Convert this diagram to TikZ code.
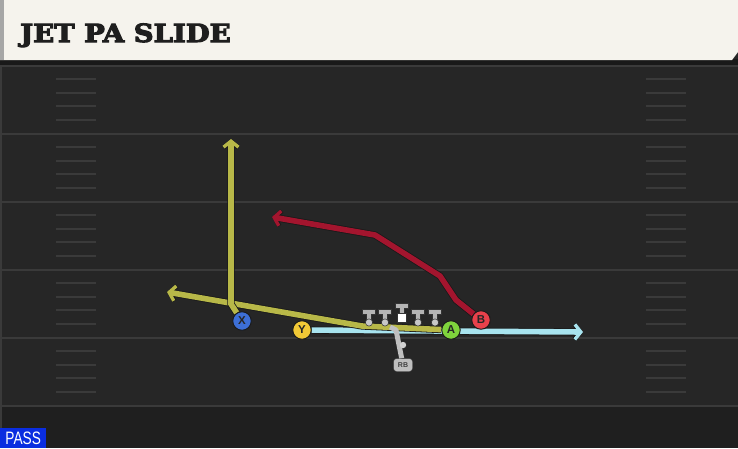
\documentclass[tikz,border=0pt]{standalone}
\usepackage{fontspec}
\newfontfamily\titlefont{DejaVu Serif}
\newfontfamily\labelfont{Liberation Sans}
\usetikzlibrary{arrows.meta}
\usetikzlibrary{positioning}

\definecolor{fieldbg}{HTML}{262626}
\definecolor{fieldlow}{HTML}{1F1F1F}
\definecolor{yardgray}{HTML}{3A3A3A}
\definecolor{titlebg}{HTML}{F5F3ED}
\definecolor{titleink}{HTML}{1E1E1E}
\definecolor{passblue}{HTML}{0A2DE0}
\definecolor{olivert}{HTML}{B8B848}
\definecolor{redrt}{HTML}{A3152E}
\definecolor{cyanrt}{HTML}{A8E4EF}
\definecolor{xblue}{HTML}{3D6FD6}
\definecolor{yyellow}{HTML}{F2C936}
\definecolor{agreen}{HTML}{7FD33C}
\definecolor{bred}{HTML}{E8414B}
\definecolor{olgray}{HTML}{B4B4B4}

\pgfdeclarelayer{field}
\pgfdeclarelayer{routes}
\pgfsetlayers{field,routes,main}

\begin{document}
\begin{tikzpicture}[x=1pt, y=-1pt, >={Straight Barb[length=6pt,width=15pt,line width=0pt 0.6]}]
	\tikzstyle{player} = [circle, draw=black!90, line width=0.9pt, minimum size=18.5pt, inner sep=0pt, font=\labelfont\bfseries\fontsize{11.5}{11.5}\selectfont, text=black!85];
	\tikzstyle{route} = [line width=5.6pt, preaction={draw=black!90, line width=7.2pt}];
	\tikzstyle{yardline} = [draw=yardgray, line width=1.6pt];
	\tikzstyle{hashmark} = [draw=yardgray, line width=1.4pt];
	\tikzstyle{lineman} = [fill=olgray, draw=black!80, line width=0.7pt];

	\useasboundingbox (0,0) rectangle (738,448);

	% field and title bar
	\begin{pgfonlayer}{field}
		\fill [fieldbg] (0,0) rectangle (738,448);
		\fill [fieldlow] (0,406) rectangle (738,448);
		\foreach \ly in {66,134,202,270,338,406}
			\draw [yardline] (0,\ly) -- (738,\ly);
		\foreach \ly in {66,134,202,270,338}
			\foreach \d in {13,27,40,54} {
				\draw [hashmark] (56,\ly+\d) -- (96,\ly+\d);
				\draw [hashmark] (646,\ly+\d) -- (686,\ly+\d);
			}
		\fill [yardgray] (0,65) rectangle (2,448);
		\fill [black!90] (0,59) rectangle (738,65);
		\fill [titlebg] (0,0) -- (738,0) -- (738,52) -- (732,60) -- (0,60) -- cycle;
		\fill [black!35] (0,0) rectangle (4,60);
	\end{pgfonlayer}

	\node [anchor=base west, inner sep=0pt, text=titleink, font=\titlefont\bfseries\fontsize{25}{25}\selectfont\addfontfeature{FakeBold=4}] (title) at (20,42) {\scalebox{1.1}[1]{JET PA SLIDE}};
	\node [fill=passblue, text=white, anchor=south west, minimum width=46pt, minimum height=20pt, inner sep=0pt, font=\labelfont\fontsize{18}{18}\selectfont] (mode) at (0,448) {\scalebox{0.76}[1]{PASS}};

	% players
	\node [player, fill=xblue]   (x) at (242,321) {X};
	\node [player, fill=yyellow] (y) at (302,330) {Y};
	\node [player, fill=agreen]  (a) at (451,330) {A};
	\node [player, fill=bred]    (b) at (481,320) {B};
	\node [fill=olgray!85, draw=black!80, rounded corners=3pt, inner sep=1.5pt, minimum width=19pt, minimum height=13pt, font=\labelfont\bfseries\fontsize{7}{7}\selectfont, text=black!75] (rb) at (403,365) {RB};

	% offensive line
	\foreach \lx in {369,385,418,435} {
		\filldraw [lineman] (\lx-6.5,309) -- (\lx+6.5,309) -- (\lx+6.5,314) -- (\lx+2.5,314) -- (\lx+2.5,321) -- (\lx-2.5,321) -- (\lx-2.5,314) -- (\lx-6.5,314) -- cycle;
		\filldraw [fill=olgray!75, draw=black!80, line width=0.5pt] (\lx,322.5) circle (3.6);
	}
	\filldraw [lineman] (395,303) -- (408,303) -- (408,308) -- (404,308) -- (404,314) -- (399,314) -- (399,308) -- (395,308) -- cycle;
	\filldraw [fill=white, draw=black!80, line width=0.5pt] (397,313.5) rectangle (406,322.5);

	% routes
	\coordinate (x_turn) at (231,304);
	\coordinate (x_end)  at (231,139);
	\coordinate (a_turn) at (362,326);
	\coordinate (a_end)  at (167,292);
	\coordinate (y_end)  at (583,332);
	\coordinate (b_1)    at (456,300);
	\coordinate (b_2)    at (440,276);
	\coordinate (b_3)    at (375,235);
	\coordinate (b_end)  at (272,217);
	\coordinate (rb_top) at (396,330);
	\coordinate (rb_fake) at (390,327);

	\begin{pgfonlayer}{routes}
		\draw [route, cyanrt, ->] (y) -- (y_end);
		\draw [route, olivert, ->] (a) -- (a_turn) -- (a_end);
		\draw [route, olivert, ->] (x) -- (x_turn) -- (x_end);
		\draw [route, redrt, ->, line join=round] (b) -- (b_1) -- (b_2) -- (b_3) -- (b_end);
		\draw [line width=5pt, draw=olgray!85, line join=round] (rb) -- (rb_top) -- (rb_fake);
		\fill [olgray!60] (403,345) circle (3.2);
	\end{pgfonlayer}
\end{tikzpicture}
\end{document}
